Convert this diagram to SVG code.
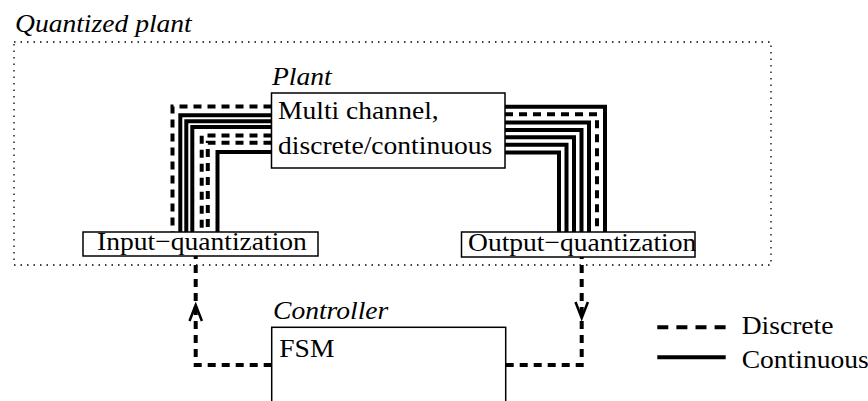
<svg xmlns="http://www.w3.org/2000/svg" width="868" height="401" viewBox="0 0 868 401">
<style>
text{font-family:"Liberation Serif","Times New Roman",serif;font-size:26px;fill:#000}
.it{font-style:italic}
.box{fill:#fff;stroke:#000;stroke-width:1.5}
.solid{fill:none;stroke:#000;stroke-width:4}
.dash{fill:none;stroke:#000;stroke-width:4;stroke-dasharray:8 6}
.dots{fill:none;stroke:#000;stroke-width:1.3;stroke-dasharray:1.5 5}
.arrow{fill:none;stroke:#000;stroke-width:2.5}
</style>
<rect id="quantized-plant" class="dots" x="14" y="42" width="757" height="223"/>
<text class="it" transform="translate(15 31.5) scale(1.06 1)">Quantized plant</text>
<g id="connectors">
  <path class="dash" d="M271.5,106.5 H172.5 V232"/>
  <path class="solid" d="M271.5,115.3 H180.3 V232"/>
  <path class="solid" d="M271.5,121.2 H186.3 V232"/>
  <path class="solid" d="M271.5,127 H192.3 V232"/>
  <path class="dash" d="M271.5,135.5 H201.7 V232"/>
  <path class="dash" d="M271.5,142.8 H207.8 V232"/>
  <path class="solid" d="M271.5,152 H217.5 V232"/>
  <path class="solid" d="M505,106.7 H605 V232"/>
  <path class="dash" d="M505,114.3 H597 V232"/>
  <path class="solid" d="M505,122.5 H589 V232"/>
  <path class="solid" d="M505,130 H581.5 V232"/>
  <path class="solid" d="M505,137.3 H574 V232"/>
  <path class="solid" d="M505,144.7 H566.5 V232"/>
  <path class="solid" d="M505,152.5 H559 V232"/>
  <path class="dash" d="M271.7,365 H195.7 V256"/>
  <path class="arrow" d="M189.5,321 L195.7,305 L201.9,321"/>
  <path class="dash" d="M505.7,365 H581.7 V257"/>
  <path class="arrow" d="M575.5,302 L581.7,318 L587.9,302"/>
</g>
<g id="plant">
  <text class="it" transform="translate(272 85) scale(1.06 1)">Plant</text>
  <rect class="box" x="271.5" y="93" width="233.5" height="75"/>
  <text transform="translate(278 119) scale(1.06 1)">Multi channel,</text>
  <text transform="translate(278 154) scale(1.06 1)">discrete/continuous</text>
</g>
<g id="input-quantization">
  <rect class="box" x="83" y="232" width="235" height="24"/>
  <text transform="translate(97 250) scale(1.06 1)">Input−quantization</text>
</g>
<g id="output-quantization">
  <rect class="box" x="461.5" y="232" width="233.5" height="25"/>
  <text transform="translate(468 250.5) scale(1.06 1)">Output−quantization</text>
</g>
<g id="controller">
  <text class="it" transform="translate(273 319) scale(1.06 1)">Controller</text>
  <rect class="box" x="271.7" y="327.3" width="234" height="80"/>
  <text transform="translate(279.3 357.3) scale(1.06 1)">FSM</text>
</g>
<g id="legend">
  <line class="dash" x1="657.3" y1="327.3" x2="725.7" y2="327.3" style="stroke-dasharray:11 8.1"/>
  <line class="solid" x1="657.3" y1="357.3" x2="725.7" y2="357.3"/>
  <text transform="translate(741.7 334.3) scale(1.06 1)">Discrete</text>
  <text transform="translate(741.7 367.5) scale(1.06 1)">Continuous</text>
</g>
</svg>
